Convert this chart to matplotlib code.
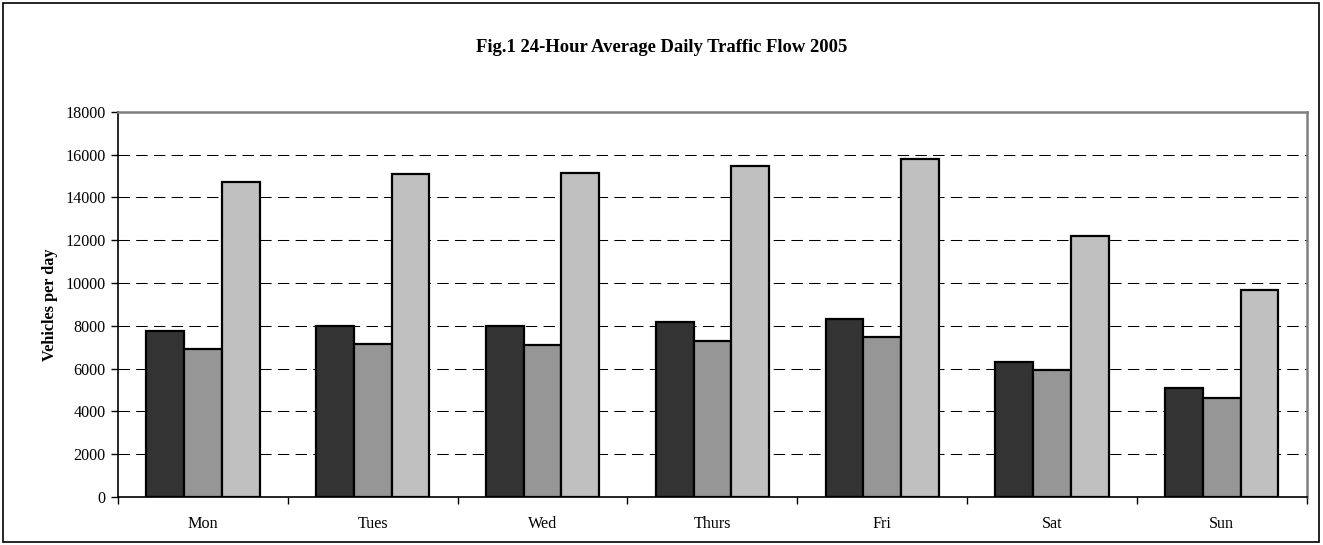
import matplotlib.pyplot as plt
import numpy as np
from matplotlib.patches import Rectangle

days = ['Mon', 'Tues', 'Wed', 'Thurs', 'Fri', 'Sat', 'Sun']
series_a = [7760, 7970, 7980, 8190, 8310, 6310, 5070]
series_b = [6930, 7130, 7120, 7270, 7470, 5920, 4630]
series_c = [14700, 15100, 15120, 15450, 15780, 12200, 9680]
yticks = [0, 2000, 4000, 6000, 8000, 10000, 12000, 14000, 16000, 18000]

plt.rcParams['font.family'] = ['Liberation Serif', 'DejaVu Serif']

fig = plt.figure(figsize=(13.23, 5.45), dpi=100)
ax = fig.add_axes([0.0892, 0.0881, 0.8985, 0.7069])

# outer border round the whole chart
fig.patches.append(Rectangle((0.002, 0.006), 0.995, 0.989, transform=fig.transFigure,
                             fill=False, edgecolor='black', linewidth=1.2))

x = np.arange(len(days))
w = 1 / 4.5
for offset, vals, col in [(-w, series_a, '#333333'), (0, series_b, '#969696'), (w, series_c, '#c0c0c0')]:
    ax.bar(x + offset, vals, width=w, color=col, edgecolor='black', linewidth=1.6, zorder=3)

ax.set_xlim(-0.5, len(days) - 0.5)
ax.set_ylim(0, 18000)
ax.set_yticks(yticks)
ax.set_yticklabels([str(v) for v in yticks], fontsize=11.6)

# ticks between the categories, labels at the centres
ax.set_xticks(np.arange(-0.5, len(days), 1))
ax.set_xticklabels([])
ax.set_xticks(x, minor=True)
ax.set_xticklabels(days, minor=True, fontsize=11.6)
ax.tick_params(axis='x', which='minor', length=0, pad=14)
ax.tick_params(axis='x', which='major', length=5, width=1, direction='out')
ax.tick_params(axis='y', length=5, width=1, direction='out', pad=4)

ax.yaxis.grid(True, color='black', linestyle=(0, (11, 6)), linewidth=0.75, zorder=0)
ax.set_axisbelow(True)

for side in ['left', 'bottom']:
    ax.spines[side].set_color('black')
    ax.spines[side].set_linewidth(1.2)
for side in ['top', 'right']:
    ax.spines[side].set_color('#808080')
    ax.spines[side].set_linewidth(1.8)

ax.set_ylabel('Vehicles per day', fontsize=11.7, fontweight='bold', labelpad=5)
fig.text(0.5, 0.912, 'Fig.1 24-Hour Average Daily Traffic Flow 2005', ha='center', va='center',
         fontsize=13.4, fontweight='bold')

fig.savefig('out.png', dpi=100)
